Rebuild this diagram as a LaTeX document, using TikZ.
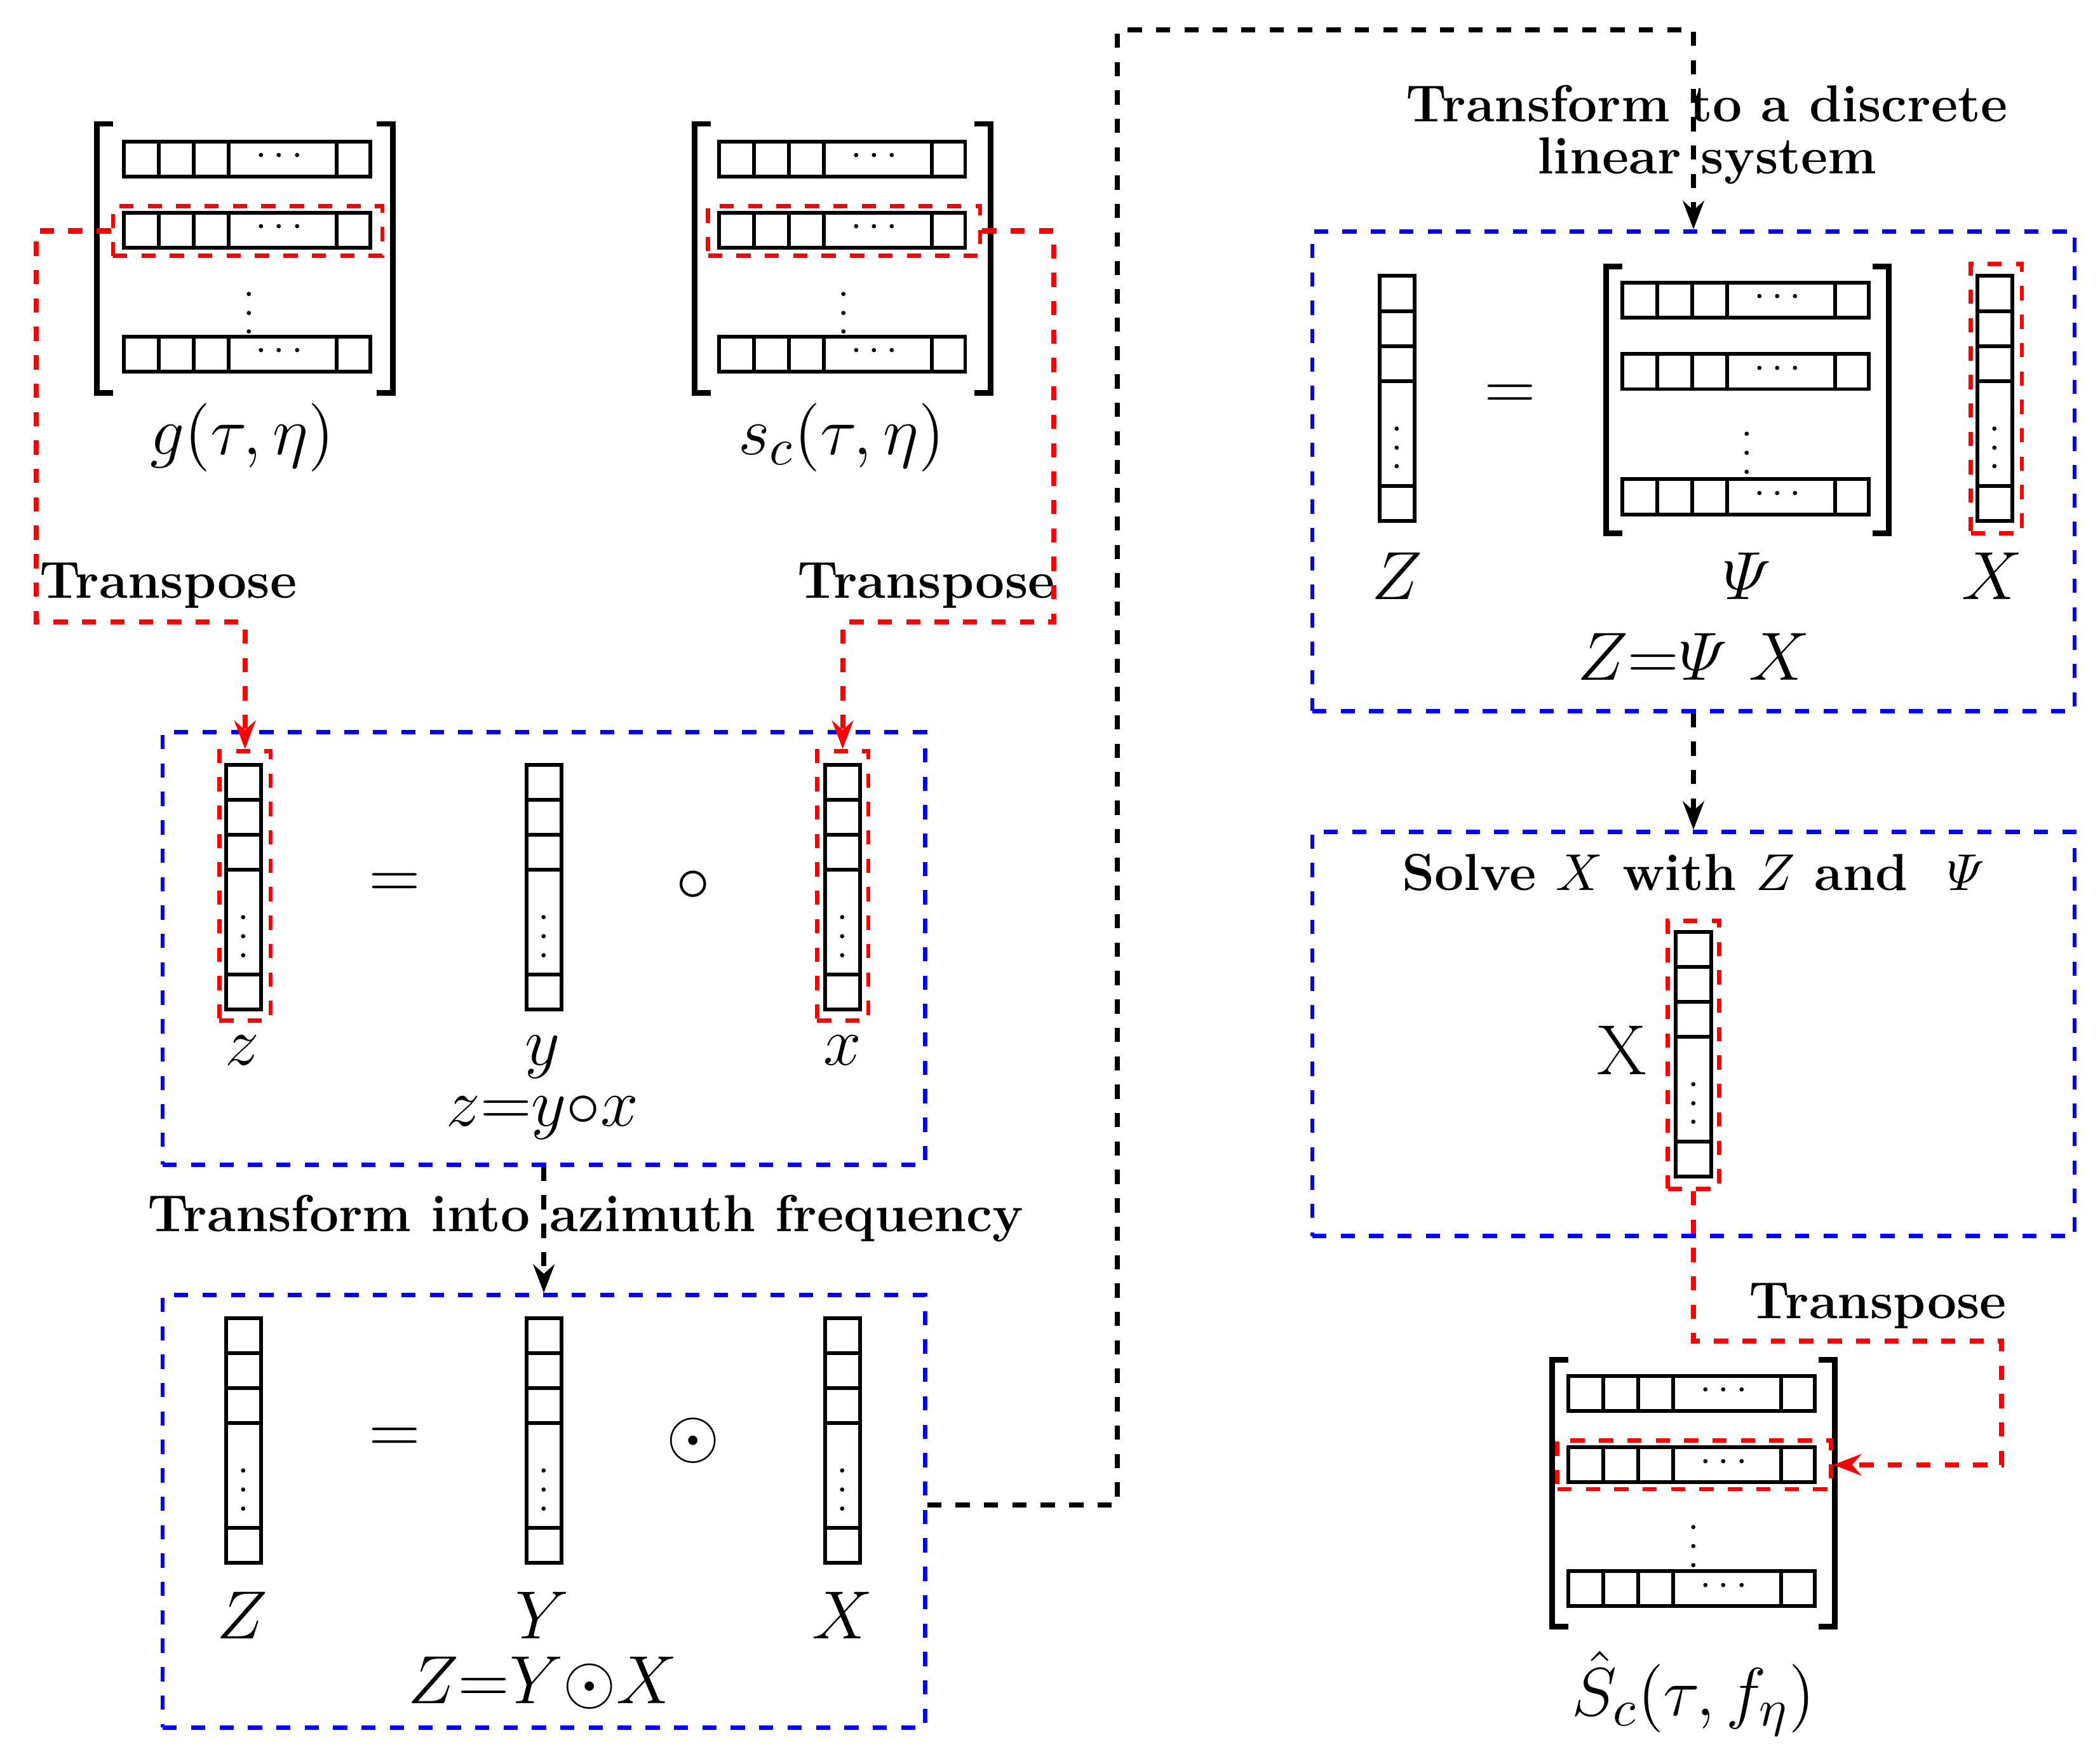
\documentclass[tikz,border=0pt]{standalone}
\usepackage{amsmath,amssymb}
\usetikzlibrary{arrows.meta}
\tikzset{
	cell/.style={line width=0.8pt},
	brk/.style={line width=1.2pt},
	dots/.style={inner sep=0pt, font=\footnotesize},
	redbox/.style={draw=red, dashed, line width=0.9pt, inner sep=0pt},
	bluebox/.style={draw=blue, dashed, line width=0.9pt, inner sep=0pt},
	redline/.style={red, dashed, line width=1.1pt, -{Stealth[length=6pt]}},
	blackline/.style={black, dashed, line width=1.1pt, -{Stealth[length=6pt]}},
	lab/.style={font=\fontsize{11}{13}\selectfont\bfseries},
	mlab/.style={font=\fontsize{15}{18}\selectfont}
}
% row of cells, top-left corner
\newcommand{\hrow}[2]{
	\draw[cell] (#1,#2) rectangle ++(183,26);
	\foreach \dx in {26,52,78,158} {\draw[cell] (#1+\dx,#2) -- ++(0,26);}
	\node[dots] at (#1+118,#2+11) {$\cdots$};
}
% column of cells, top-left corner
\newcommand{\vcol}[2]{
	\draw[cell] (#1,#2) rectangle ++(26,182);
	\foreach \dy in {26,52,78,156} {\draw[cell] (#1,#2+\dy) -- ++(26,0);}
	\node[dots] at (#1+13,#2+117) {$\vdots$};
}
% matrix brackets, left x, top y, right x, bottom y
\newcommand{\brackets}[4]{
	\draw[brk] (#1+12,#2) -- (#1,#2) -- (#1,#4) -- (#1+12,#4);
	\draw[brk] (#3-12,#2) -- (#3,#2) -- (#3,#4) -- (#3-12,#4);
}
\begin{document}
\begin{tikzpicture}[x=0.01cm,y=-0.01cm]
	\useasboundingbox (0,0) rectangle (1560,1308);
	
	% matrix g
	\brackets{72}{92}{292}{292}
	\hrow{92}{105} \hrow{92}{158} \hrow{92}{250}
	\node[dots] at (185,222) {$\vdots$};
	\node[mlab] (glab) at (180,325) {$g(\tau,\eta)$};
	\node[redbox, minimum width=2cm, minimum height=0.37cm] (grow) at (184,171.5) {};
	
	% matrix s_c
	\brackets{516}{92}{736}{292}
	\hrow{534}{105} \hrow{534}{158} \hrow{534}{250}
	\node[dots] at (627,222) {$\vdots$};
	\node[mlab] (slab) at (625,325) {$s_c(\tau,\eta)$};
	\node[redbox, minimum width=2.02cm, minimum height=0.37cm] (srow) at (627,171.5) {};
	
	% box z = y o x
	\node[bluebox, minimum width=5.66cm, minimum height=3.21cm] (box1) at (404,704.5) {};
	\vcol{168}{568} \vcol{391}{568} \vcol{613}{568}
	\node[redbox, minimum width=0.38cm, minimum height=2cm] (zcol) at (182,658) {};
	\node[redbox, minimum width=0.38cm, minimum height=2cm] (xcol) at (626,658) {};
	\node[mlab] at (293,658) {$=$};
	\node[mlab] at (515,658) {$\circ$};
	\node[mlab] at (180,780) {$z$};
	\node[mlab] at (403,785) {$y$};
	\node[mlab] at (626,780) {$x$};
	\node[mlab] at (403,830) {$z\text{=}y{\circ}x$};
	
	% transposes on the left
	\node[lab] at (125,435) {Transpose};
	\node[lab] at (688,435) {Transpose};
	\draw[redline] (grow.west) -| (27,462) -| (zcol.north);
	\draw[redline] (srow.east) -| (783,462) -| (xcol.north);
	
	% box Z = Y (.) X
	\node[bluebox, minimum width=5.66cm, minimum height=3.21cm] (box2) at (404,1122.5) {};
	\vcol{168}{979} \vcol{391}{979} \vcol{613}{979}
	\node[mlab] at (293,1070) {$=$};
	\node[mlab] at (515,1070) {$\odot$};
	\node[mlab] at (180,1200) {$Z$};
	\node[mlab] at (403,1200) {$Y$};
	\node[mlab] at (626,1200) {$X$};
	\node[mlab] at (403,1250) {$Z\text{=}Y{\odot}X$};
	
	\draw[blackline] (box1.south) -- (box2.north);
	\node[lab, inner sep=1pt] at (435,905) {Transform into azimuth frequency};
	
	% box Z = Psi X
	\node[bluebox, minimum width=5.66cm, minimum height=3.56cm] (box3) at (1258,350) {};
	\vcol{1025}{205}
	\node[mlab] at (1122,295) {$=$};
	\brackets{1193}{198}{1403}{396}
	\hrow{1205}{210} \hrow{1205}{263} \hrow{1205}{356}
	\node[dots] at (1298,326) {$\vdots$};
	\vcol{1469}{205}
	\node[redbox, minimum width=0.38cm, minimum height=2cm] (Xcol) at (1483,296) {};
	\node[mlab] at (1038,428) {$Z$};
	\node[mlab] at (1298,428) {$\varPsi$};
	\node[mlab] at (1480,428) {$X$};
	\node[mlab] at (1258,488) {$Z\text{=}\varPsi\ X$};
	
	\coordinate (bend) at (830,1118);
	\draw[blackline] (box2.east |- bend) -- (bend) -- (830,22) -| (box3.north);
	\node[lab, align=center, inner sep=0pt] at (1268,100) {Transform to a discrete\\[-2pt]linear system};
	
	% box solve
	\node[bluebox, minimum width=5.66cm, minimum height=3cm] (box4) at (1258,768) {};
	\node[lab] at (1258,648) {Solve $X$ with $Z$ and \ $\varPsi$};
	\node[mlab] at (1205,780) {X};
	\vcol{1245}{692}
	\node[redbox, minimum width=0.38cm, minimum height=1.99cm] (Scol) at (1258,783.5) {};
	\draw[blackline] (box3.south) -- (box4.north);
	
	% matrix S hat
	\brackets{1153}{1010}{1363}{1208}
	\hrow{1165}{1022} \hrow{1165}{1075} \hrow{1165}{1167}
	\node[dots] at (1258,1138) {$\vdots$};
	\node[redbox, minimum width=2.03cm, minimum height=0.36cm] (Srow) at (1258.5,1088) {};
	\node[mlab] at (1258,1258) {$\hat{S}_c(\tau,f_\eta)$};
	
	\node[lab] at (1395,970) {Transpose};
	\draw[redline] (Scol.south) |- (1487,996) |- (Srow.east);
\end{tikzpicture}
\end{document}
